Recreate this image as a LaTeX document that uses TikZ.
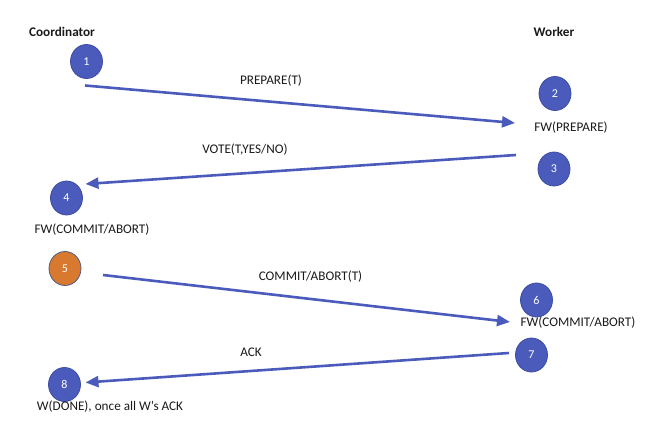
\documentclass[tikz,border=0pt]{standalone}
\usepackage{fontspec}
\setmainfont{Carlito}
\usetikzlibrary{arrows.meta,shapes.geometric}
\definecolor{stepblue}{HTML}{4A5BBC}
\definecolor{stepblueedge}{HTML}{3C4CA0}
\definecolor{steporange}{HTML}{D8792F}
\definecolor{steporangeedge}{HTML}{4E5A86}
\definecolor{txt}{HTML}{1A1A1A}
\tikzset{
  every node/.style={font=\fontsize{13.2}{15}\selectfont, text=txt},
  stepnode/.style={ellipse, minimum width=32pt, minimum height=34pt, inner sep=0pt,
    fill=stepblue, draw=stepblueedge, line width=0.8pt, text=white,
    font=\fontsize{12}{14}\selectfont},
  orangenode/.style={stepnode, fill=steporange, draw=steporangeedge},
  msg/.style={draw=stepblue, line width=2.6pt, -{Triangle[length=13pt,width=11pt]}},
  headlbl/.style={font=\bfseries\fontsize{13.2}{15}\selectfont},
  lbl/.style={inner sep=0pt}
}
\begin{document}
\begin{tikzpicture}[x=1pt,y=-1pt]
\useasboundingbox (0,0) rectangle (663,433);
\node[headlbl] (coord) at (62,32) {Coordinator};
\node[headlbl] (work) at (554,32) {Worker};

\node[stepnode] (n1) at (86.5,61.5) {1};
\node[stepnode] (n2) at (555,93.5) {2};
\node[stepnode] (n3) at (554,169) {3};
\node[stepnode] (n4) at (66.5,198) {4};
\node[orangenode] (n5) at (65,268.5) {5};
\node[stepnode] (n6) at (536.5,300) {6};
\node[stepnode] (n7) at (531.5,355) {7};
\node[stepnode] (n8) at (64.5,384.5) {8};

\node[lbl] (fwp) at (571,128) {FW(PREPARE)};
\node[lbl] (fwca1) at (92,229.5) {FW(COMMIT/ABORT)};
\node[lbl] (fwca2) at (578,323) {FW(COMMIT/ABORT)};
\node[lbl] (done) at (110,407) {W(DONE), once all W’s ACK};

\node[lbl] (lprep) at (271,81) {PREPARE(T)};
\node[lbl] (lvote) at (245,150) {VOTE(T,YES/NO)};
\node[lbl] (lca) at (310.5,276.5) {COMMIT/ABORT(T)};
\node[lbl] (lack) at (251,352) {ACK};

\coordinate (a1s) at (85,85.5);
\coordinate (a1e) at (515,123);
\coordinate (a2s) at (516,155);
\coordinate (a2e) at (85.5,184);
\coordinate (a3s) at (103,275);
\coordinate (a3e) at (510,322);
\coordinate (a4s) at (509,353);
\coordinate (a4e) at (85.5,382.5);

\draw[msg] (a1s) -- (a1e);
\draw[msg] (a2s) -- (a2e);
\draw[msg] (a3s) -- (a3e);
\draw[msg] (a4s) -- (a4e);
\end{tikzpicture}
\end{document}
